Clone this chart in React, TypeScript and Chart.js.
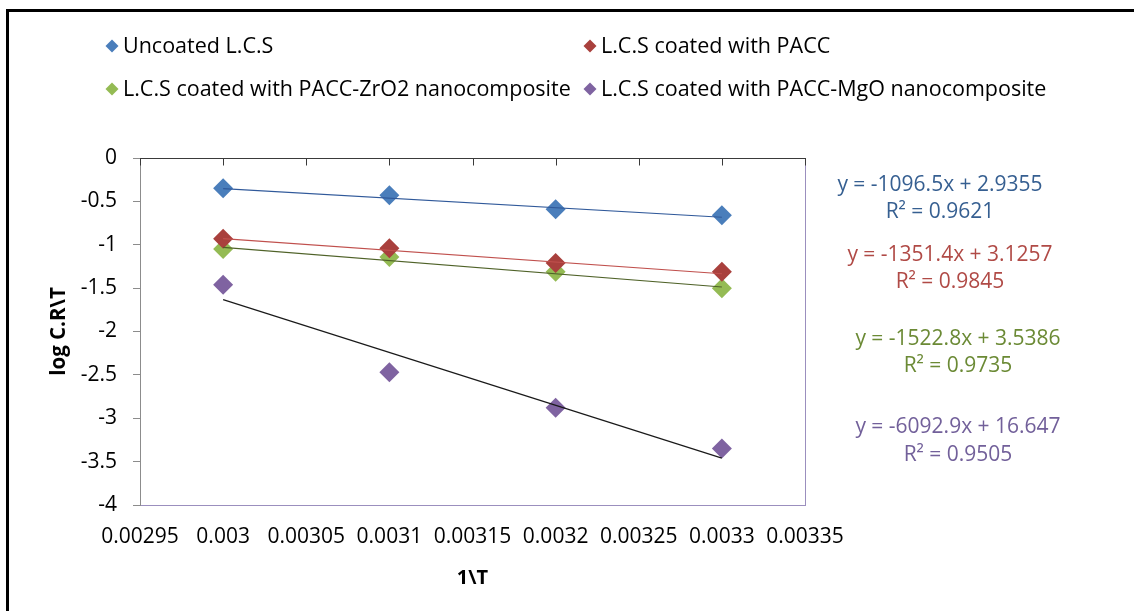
import React, { useEffect, useRef } from 'react';
import { Chart, registerables } from 'chart.js';

Chart.register(...registerables);

// ---- data ----
const xValues = [0.003, 0.0031, 0.0032, 0.0033];
const seriesNames = [
  'Uncoated L.C.S',
  'L.C.S coated with PACC',
  'L.C.S coated with PACC-ZrO2 nanocomposite',
  'L.C.S coated with PACC-MgO nanocomposite',
];
const uncoated = [-0.35, -0.43, -0.59, -0.66];
const coatedPacc = [-0.93, -1.04, -1.21, -1.31];
const coatedZrO2 = [-1.05, -1.14, -1.31, -1.5];
const coatedMgO = [-1.46, -2.47, -2.88, -3.35];

// trendline end points (read at x = 0.003 and x = 0.0033)
const trendX = [0.003, 0.0033];
const uncoatedTrend = [-0.354, -0.683];
const coatedPaccTrend = [-0.929, -1.334];
const coatedZrO2Trend = [-1.03, -1.487];
const coatedMgOTrend = [-1.632, -3.46];

const equations = [
  'y = -1096.5x + 2.9355',
  'y = -1351.4x + 3.1257',
  'y = -1522.8x + 3.5386',
  'y = -6092.9x + 16.647',
];
const rSquared = ['R² = 0.9621', 'R² = 0.9845', 'R² = 0.9735', 'R² = 0.9505'];

const xTicks = [0.00295, 0.003, 0.00305, 0.0031, 0.00315, 0.0032, 0.00325, 0.0033, 0.00335];
const xTickLabels = ['0.00295', '0.003', '0.00305', '0.0031', '0.00315', '0.0032', '0.00325', '0.0033', '0.00335'];
const yTicks = [-4, -3.5, -3, -2.5, -2, -1.5, -1, -0.5, 0];
const yTickLabels = ['-4', '-3.5', '-3', '-2.5', '-2', '-1.5', '-1', '-0.5', '0'];

const seriesValues = [uncoated, coatedPacc, coatedZrO2, coatedMgO];
const trendValues = [uncoatedTrend, coatedPaccTrend, coatedZrO2Trend, coatedMgOTrend];

// ---- styles ----
const FONT = '"Open Sans", "Noto Sans", sans-serif';
const markerColors = ['#4A7EBB', '#A9403D', '#94BB54', '#7F63A1'];
const trendColors = ['#30599A', '#C0504D', '#4F6228', '#1A1A1A'];
const eqColors = ['#365F91', '#B04A46', '#6B8A35', '#72609A'];
const eqPos = [
  { x: 940, y1: 185, y2: 212 },
  { x: 950, y1: 255, y2: 282 },
  { x: 958, y1: 339, y2: 366 },
  { x: 958, y1: 427, y2: 455 },
];
const legendCols = [112, 590];
const legendRows = [46, 89];

function diamond(ctx: CanvasRenderingContext2D, x: number, y: number, r: number, color: string) {
  ctx.beginPath();
  ctx.moveTo(x, y - r);
  ctx.lineTo(x + r, y);
  ctx.lineTo(x, y + r);
  ctx.lineTo(x - r, y);
  ctx.closePath();
  ctx.fillStyle = color;
  ctx.fill();
}

const decorPlugin = {
  id: 'decor',
  beforeDatasetsDraw(chart: any) {
    const { ctx, chartArea, scales } = chart;
    ctx.save();
    // right frame of plot area
    ctx.strokeStyle = '#9B8FBE';
    ctx.lineWidth = 1;
    ctx.beginPath();
    ctx.moveTo(chartArea.right + 0.5, chartArea.top);
    ctx.lineTo(chartArea.right + 0.5, chartArea.bottom);
    ctx.stroke();
    // horizontal axis line at y = 0 with ticks pointing down
    const y0 = Math.round(scales.y.getPixelForValue(0)) + 0.5;
    ctx.strokeStyle = '#3A3A3A';
    ctx.beginPath();
    ctx.moveTo(chartArea.left, y0);
    ctx.lineTo(chartArea.right + 1, y0);
    xTicks.forEach((v) => {
      const px = Math.round(scales.x.getPixelForValue(v)) + 0.5;
      ctx.moveTo(px, y0);
      ctx.lineTo(px, y0 + 7);
    });
    ctx.stroke();
    ctx.restore();
  },
  afterDraw(chart: any) {
    const { ctx } = chart;
    ctx.save();
    ctx.textBaseline = 'middle';
    ctx.font = `21.5px ${FONT}`;
    seriesNames.forEach((name, i) => {
      const cx = legendCols[i % 2];
      const cy = legendRows[Math.floor(i / 2)];
      diamond(ctx, cx, cy, 6.5, markerColors[i]);
      ctx.fillStyle = '#000';
      ctx.textAlign = 'left';
      ctx.fillText(name, cx + 11, cy + 1);
    });
    ctx.font = `21px ${FONT}`;
    ctx.textAlign = 'center';
    equations.forEach((eq, i) => {
      ctx.fillStyle = eqColors[i];
      ctx.fillText(eq, eqPos[i].x, eqPos[i].y1);
      ctx.fillText(rSquared[i], eqPos[i].x, eqPos[i].y2);
    });
    ctx.restore();
  },
};

export default function App() {
  const ref = useRef<HTMLCanvasElement>(null);

  useEffect(() => {
    const trendSets = trendValues.map((vals, i) => ({
      type: 'line' as const,
      label: seriesNames[i] + ' trend',
      data: trendX.map((x, j) => ({ x, y: vals[j] })),
      borderColor: trendColors[i],
      borderWidth: 1.2,
      pointRadius: 0,
      showLine: true,
      fill: false,
      order: 0,
    }));
    const pointSets = seriesValues.map((vals, i) => ({
      type: 'scatter' as const,
      label: seriesNames[i],
      data: xValues.map((x, j) => ({ x, y: vals[j] })),
      pointStyle: 'rectRot' as const,
      pointRadius: 10,
      backgroundColor: markerColors[i],
      borderColor: markerColors[i],
      borderWidth: 0,
      order: 1,
    }));

    const chart = new Chart(ref.current as HTMLCanvasElement, {
      type: 'scatter',
      data: { datasets: [...trendSets, ...pointSets] as any },
      options: {
        responsive: false,
        animation: false,
        layout: { padding: { top: 158, right: 329, bottom: 0, left: 0 } },
        plugins: { legend: { display: false }, tooltip: { enabled: false } },
        scales: {
          x: {
            type: 'linear',
            position: 'bottom',
            min: 0.00295,
            max: 0.00335,
            afterBuildTicks: (s: any) => {
              s.ticks = xTicks.map((v) => ({ value: v }));
            },
            afterFit: (s: any) => {
              s.height = 106;
            },
            grid: { display: false },
            border: { display: true, color: '#9B8FBE', width: 1 },
            ticks: {
              callback: (_v: any, i: number) => xTickLabels[i],
              font: { family: FONT, size: 21 },
              color: '#000',
              padding: 11,
              maxRotation: 0,
              autoSkip: false,
            },
            title: {
              display: true,
              text: '1\\T',
              font: { family: FONT, size: 20, weight: 'bold' },
              color: '#000',
              padding: { top: 0, bottom: 21 },
            },
          },
          y: {
            type: 'linear',
            position: 'left',
            min: -4,
            max: 0,
            afterBuildTicks: (s: any) => {
              s.ticks = yTicks.map((v) => ({ value: v }));
            },
            afterFit: (s: any) => {
              s.width = 140;
            },
            grid: { drawOnChartArea: false, drawTicks: true, tickLength: 7, color: '#8C8C8C' },
            border: { display: true, color: '#8C8C8C', width: 1 },
            ticks: {
              callback: (_v: any, i: number) => yTickLabels[i],
              font: { family: FONT, size: 21 },
              color: '#000',
              padding: 16,
            },
            title: {
              display: true,
              text: 'log C.R\\T',
              font: { family: FONT, size: 20.5, weight: 'bold' },
              color: '#000',
              padding: { top: 47, bottom: 0 },
            },
          },
        },
      },
      plugins: [decorPlugin],
    });
    return () => chart.destroy();
  }, []);

  return (
    <div style={{ position: 'absolute', left: 0, top: 0, width: 1134, height: 611, background: '#fff', overflow: 'hidden' }}>
      <canvas ref={ref} width={1134} height={611} style={{ display: 'block', width: 1134, height: 611 }} />
      <div
        style={{
          position: 'absolute',
          left: 6,
          top: 9,
          right: 0,
          bottom: 0,
          borderLeft: '3px solid #000',
          borderTop: '3px solid #000',
          pointerEvents: 'none',
        }}
      />
    </div>
  );
}
